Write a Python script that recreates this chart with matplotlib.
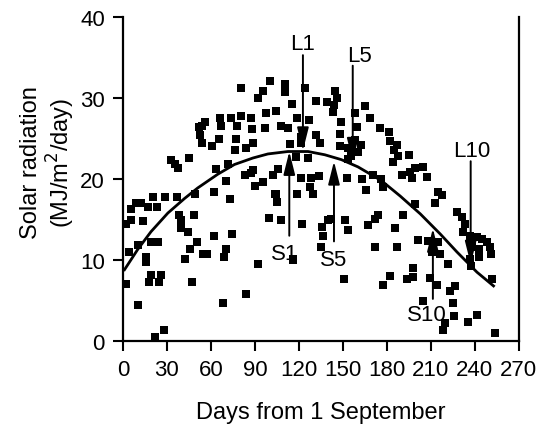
import numpy as np
import matplotlib
matplotlib.use('Agg')
from matplotlib import pyplot as plt

plt.rcParams['font.family'] = ['Liberation Sans', 'DejaVu Sans']

# daily solar radiation (MJ/m2/day)
days = [1.8, 5.2, 5.5, 8.8, 12.2, 16.9, 23, 13.5, 10, 19.1, 23.7, 4.4, 15.7, 15.7, 19.1, 26, 18, 24.9, 2, 10,
        21.5, 28.3, 20.5, 28.5, 36.9, 38.5, 39.6, 39.6, 44.2, 42, 45.4, 32.6, 35.3, 37.4, 44.9, 47,
        48.3, 50.6, 54.5, 57.4, 62, 74.5, 70.4, 68.8, 84.1, 68.1, 49, 62, 70.2, 72.9, 63.6, 71.6, 83, 87.3,
        53.6, 55.8, 52.4, 54, 60.4, 65.9, 73.4, 67, 77.9, 65.2, 77.2, 76.1, 80.7, 84.1, 80.7, 51.7,
        87.1, 87.8, 88.7, 100.1, 95.5, 92.1, 110.3, 110.3, 115.5, 97.7, 104.6, 118.9, 96.7, 107.6, 112.6,
        113.7, 118.3, 88.7, 95.5, 102.3, 105.7, 89.8, 104.6, 118.9, 103.7, 104.8, 99.8, 107.8, 92.3, 115.8,
        124, 131.9, 139, 144.9, 146.3, 144, 143.1, 126.9, 121.5, 121.3, 131.9, 134.2, 149, 147.9, 148.1,
        126.3, 121.3, 128.5, 133.8, 152.9, 127.6, 129.9, 121.9, 135.6, 136.3, 134.9, 139.9, 142.2, 151.3,
        153.6, 116, 150.9, 153.6, 158.2, 162.7, 155.8, 160.4, 153.6, 158.4, 159.5, 165, 168.4,
        175.3, 181.8, 182.3, 186.9, 185, 188, 184.6, 195.5, 190.3, 196, 197.1, 199.4, 205.1, 207.4, 215.3,
        217.6, 177.7, 166.1, 170.7, 163, 175.9, 199.4, 213, 191.4, 174.3, 172, 167.5, 185.7, 171.8, 187.3,
        201.6, 182.3, 177.7, 193.7, 198.2, 198.2,
        208.5, 215.3, 210.8, 216.5, 222.1, 209.6, 214.2, 223.3, 226.7, 205.1, 225.2, 225.6, 235.8, 241.6,
        219.9, 218.7, 254.1, 227.9, 231.3, 233.6, 232.4, 236.5, 241.6, 245, 248.4, 250.7, 251.1, 238.1,
        242.7, 236.5, 242.7, 237.5, 251.8]
srad = [14.5, 14.9, 16.3, 17.0, 17.0, 16.6, 16.5, 14.8, 11.8, 12.2, 12.2, 11.0, 10.4, 9.7, 8.2, 8.2, 7.3, 7.3, 7.0, 4.5,
        0.5, 1.3, 17.8, 17.8, 17.8, 15.5, 15.0, 13.9, 13.5, 10.1, 11.3, 22.3, 21.9, 21.4, 22.6, 7.3,
        15.6, 12.2, 10.8, 10.7, 13.0, 13.2, 11.4, 10.4, 5.8, 4.7, 18.2, 18.4, 19.7, 17.5, 21.3, 21.9, 20.5, 20.7,
        26.6, 27.0, 25.4, 24.4, 24.1, 27.5, 27.5, 26.6, 26.6, 24.9, 24.9, 23.6, 27.8, 23.8, 31.2, 26.4,
        27.5, 26.2, 24.4, 32.1, 30.9, 30.0, 31.8, 30.8, 29.3, 28.2, 28.4, 27.5, 26.3, 26.6, 26.3,
        24.3, 22.7, 21.1, 19.6, 20.5, 21.3, 19.2, 18.2, 18.1, 18.1, 17.2, 15.2, 14.9, 9.5, 10.0,
        31.3, 29.7, 29.5, 30.9, 30.0, 29.1, 28.3, 27.3, 25.2, 24.4, 25.5, 24.4, 27.1, 25.6, 24.1,
        22.6, 20.1, 20.1, 20.4, 20.1, 19.0, 18.1, 14.5, 14.1, 13.0, 11.6, 14.9, 15.1, 15.0,
        13.7, 10.1, 7.7, 23.8, 24.8, 24.2, 22.9, 23.3, 22.5, 28.1, 26.4, 29.0, 27.5,
        26.3, 25.8, 24.7, 24.2, 23.6, 22.9, 22.1, 23.0, 20.5, 20.9, 20.1, 21.4, 21.5, 20.3, 18.4,
        18.0, 19.0, 18.7, 20.5, 20.0, 20.0, 16.9, 17.0, 15.6, 15.6, 15.1, 14.3, 13.9, 11.6, 11.6,
        12.5, 8.0, 6.9, 7.6, 7.9, 9.0,
        12.4, 12.2, 11.0, 10.8, 9.5, 7.8, 6.9, 6.2, 6.8, 5.0, 4.7, 3.1, 2.4, 3.2,
        2.2, 1.3, 1.0, 15.9, 15.3, 14.5, 13.5, 13.0, 12.8, 12.6, 12.2, 11.6, 10.8, 11.6,
        11.4, 10.1, 10.4, 9.3, 7.7]

# fitted seasonal curve
curve_days = [1, 10, 19.1, 30.6, 42, 51, 64.7, 76.1, 88.7, 98.9, 112.6, 126.3, 137.7, 149, 160.4,
              176.4, 189.2, 202.9, 216.6, 227.9, 241.6, 252.9]
curve_vals = [8.8, 11.3, 13.5, 15.8, 17.6, 18.9, 20.6, 21.8, 22.6, 23.1, 23.4, 23.4, 23.0, 22.4, 21.5,
              19.8, 17.9, 15.7, 13.2, 11.0, 8.5, 6.8]

# labelled arrows: label, label position, arrow x, tail y, tip y
arrow_labels = ['L1', 'S1', 'L5', 'S5', 'L10', 'S10']
label_x = [122.8, 110.5, 161.7, 144.0, 237.7, 207.4]
label_y = [36.8, 10.8, 35.3, 10.1, 23.5, 3.3]
arrow_x = [122.8, 113.5, 156.8, 144.0, 237.3, 211.5]
tail_y = [35.3, 13.0, 34.0, 12.3, 22.2, 5.2]
tip_y = [23.5, 23.4, 22.2, 22.2, 9.5, 13.9]

fig = plt.figure(figsize=(5.36, 4.31), dpi=100)
ax = fig.add_axes([0.2295, 0.2065, 0.738, 0.7515])

ax.plot(days, srad, 's', color='black', markersize=5.3, markeredgewidth=0)
ax.plot(curve_days, curve_vals, color='black', lw=2)

for lab, lx, ly, ax_x, ty, hy in zip(arrow_labels, label_x, label_y, arrow_x, tail_y, tip_y):
    ax.annotate('', xy=(ax_x, hy), xytext=(ax_x, ty),
                arrowprops=dict(arrowstyle='-|>,head_length=1.4,head_width=0.35',
                                color='black', lw=1.4, shrinkA=0, shrinkB=0))
    ax.text(lx, ly, lab, ha='center', va='center', fontsize=16)

ax.set_xlim(0, 270)
ax.set_ylim(0, 40)
ax.set_xticks(np.arange(0, 271, 30))
ax.set_yticks(np.arange(0, 41, 10))
ax.spines['top'].set_visible(False)
for s in ['left', 'bottom', 'right']:
    ax.spines[s].set_linewidth(1.6)
ax.tick_params(direction='out', length=7, width=1.5, labelsize=16, pad=6)

ax.set_xlabel('Days from 1 September', fontsize=17, labelpad=15)
fig.text(0.09, 0.622, 'Solar radiation\n(MJ/m$^2$/day)', rotation=90, ha='center', va='center',
         fontsize=17, multialignment='center', linespacing=1.1)

fig.savefig('out.png', dpi=100)
